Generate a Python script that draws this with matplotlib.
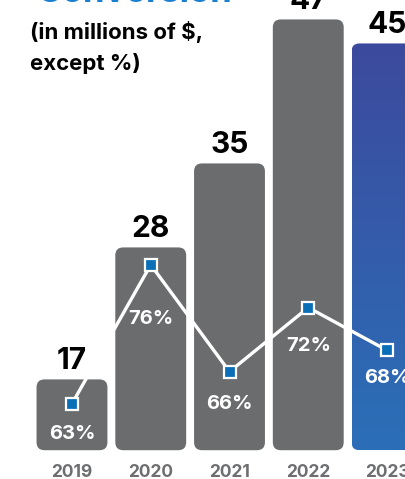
import matplotlib
matplotlib.use("Agg")
import matplotlib.pyplot as plt
import numpy as np
from matplotlib.patches import FancyBboxPatch
from matplotlib.colors import LinearSegmentedColormap

plt.rcParams["font.family"] = ["Inter", "DejaVu Sans"]

# revenue bars and conversion rate line
years = ["2019", "2020", "2021", "2022", "2023"]
revenue = [17, 28, 35, 47, 45]
conversion = [63, 76, 66, 72, 68]
# label offsets below each marker, in points
pct_offsets = [22, 39, 23, 28, 20]

BASE = 11.1          # value where the bars start
BAR_W = 0.9
GREY = "#6b6c6e"
MARK = "#0b6fb8"

fig = plt.figure(figsize=(4.06, 4.79), dpi=100)
ax = fig.add_axes([0, 0, 1, 1])
ax.axis("off")

# px per data unit: x 78.75, y 12 -> keep the corners round
aspect = 78.75 / 12.0
grad = LinearSegmentedColormap.from_list("g", ["#2b6fb8", "#3d4a9d"])

for i, v in enumerate(revenue):
    x0 = i - BAR_W / 2
    last = i == len(revenue) - 1
    box = FancyBboxPatch((x0, BASE), BAR_W, v - BASE,
                         boxstyle="round,pad=0,rounding_size=0.1",
                         mutation_aspect=aspect,
                         fc="none" if last else GREY, ec="none", zorder=1)
    ax.add_patch(box)
    if last:
        img = np.linspace(0, 1, 256).reshape(-1, 1)
        im = ax.imshow(img, cmap=grad, origin="lower", aspect="auto",
                       extent=[x0, x0 + BAR_W, BASE, v], zorder=1)
        im.set_clip_path(box)
    ax.annotate(str(v), (i, v), xytext=(0, 3), textcoords="offset points",
                ha="center", va="bottom", fontsize=21.5, fontweight="bold",
                color="black", annotation_clip=False)
    ax.text(i, 8.70 + 0.58, years[i], ha="center", va="center",
            fontsize=12.5, fontweight="bold", color="#6d6e70")

ax.set_xlim(-0.914, 4.241)
ax.set_ylim(8.70, 48.62)

ax2 = ax.twinx()
ax2.set_position([0, 0, 1, 1])
ax2.set_ylim(55.96, 100.77)
ax2.axis("off")
ax2.plot(range(len(conversion)), conversion, color="white", lw=2.4,
         marker="s", markersize=9, markerfacecolor=MARK,
         markeredgecolor="white", markeredgewidth=1.6, zorder=3)
for i, (p, off) in enumerate(zip(conversion, pct_offsets)):
    ax2.annotate(f"{p}%", (i, p), xytext=(0, -off), textcoords="offset points",
                 ha="center", va="center", fontsize=14.5, fontweight="bold",
                 color="white", annotation_clip=False)

fig.text(36 / 406, 1 - 2 / 479, "Conversion", ha="left", va="baseline",
         fontsize=25, fontweight="bold", color="#1a7fd0")
fig.text(30 / 406, 1 - 32 / 479, "(in millions of $,", ha="left",
         va="center", fontsize=16, fontweight="bold", color="black")
fig.text(30 / 406, 1 - 63 / 479, "except %)", ha="left",
         va="center", fontsize=16, fontweight="bold", color="black")

fig.savefig("out.png", dpi=100)
